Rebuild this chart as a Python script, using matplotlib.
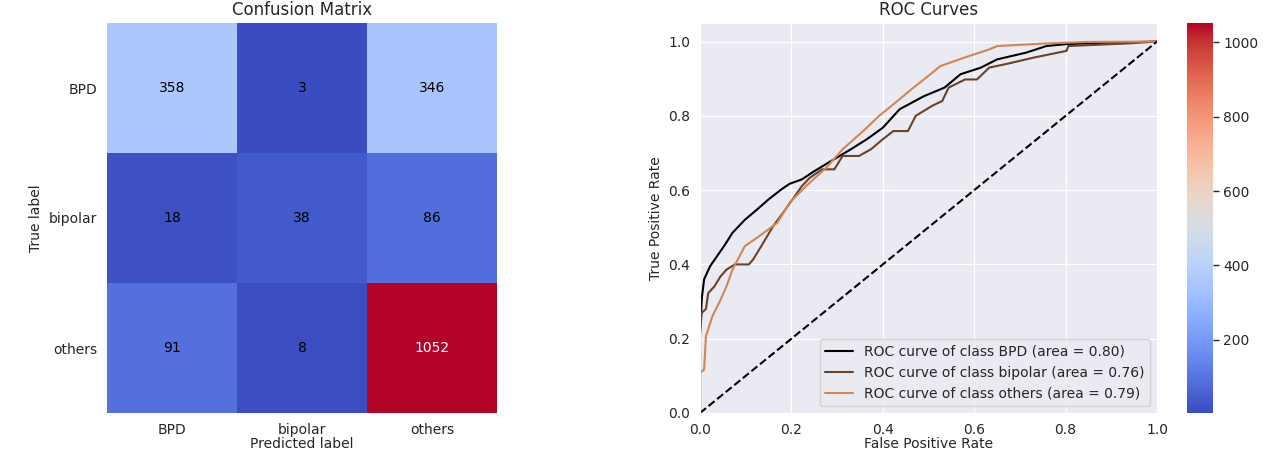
import matplotlib
matplotlib.use('Agg')
import matplotlib.pyplot as plt
import numpy as np
import seaborn as sns

sns.set_style('darkgrid')

classes = ['BPD', 'bipolar', 'others']
cm = [[358, 3, 346],
      [18, 38, 86],
      [91, 8, 1052]]

# ROC points
fpr_bpd = [0, 0, 0.004, 0.009, 0.022, 0.036, 0.053, 0.071, 0.098, 0.125, 0.15, 0.178, 0.196,
           0.223, 0.25, 0.285, 0.33, 0.365, 0.40, 0.437, 0.49, 0.535, 0.57, 0.615, 0.65,
           0.713, 0.758, 0.80, 0.89, 1.0]
tpr_bpd = [0, 0.21, 0.31, 0.36, 0.395, 0.42, 0.45, 0.485, 0.52, 0.548, 0.575, 0.602, 0.617,
           0.629, 0.651, 0.677, 0.71, 0.737, 0.768, 0.818, 0.853, 0.876, 0.912, 0.93, 0.952,
           0.97, 0.988, 0.993, 0.997, 1.0]

fpr_bip = [0, 0, 0.004, 0.013, 0.018, 0.031, 0.045, 0.058, 0.076, 0.107, 0.116, 0.134, 0.16,
           0.187, 0.223, 0.24, 0.267, 0.294, 0.312, 0.348, 0.374, 0.40, 0.423, 0.455, 0.472,
           0.508, 0.53, 0.544, 0.58, 0.606, 0.633, 0.668, 0.731, 0.802, 0.806, 0.936, 1.0]
tpr_bip = [0, 0.22, 0.27, 0.28, 0.323, 0.34, 0.368, 0.386, 0.40, 0.40, 0.413, 0.449, 0.503,
           0.548, 0.611, 0.633, 0.656, 0.656, 0.692, 0.692, 0.71, 0.737, 0.759, 0.759, 0.80,
           0.827, 0.84, 0.876, 0.898, 0.898, 0.93, 0.939, 0.957, 0.975, 0.988, 0.995, 1.0]

fpr_oth = [0, 0, 0.009, 0.013, 0.027, 0.045, 0.058, 0.071, 0.098, 0.134, 0.169, 0.196, 0.232,
           0.276, 0.312, 0.357, 0.392, 0.437, 0.463, 0.49, 0.526, 0.579, 0.633, 0.651, 0.758,
           0.847, 1.0]
tpr_oth = [0, 0.108, 0.117, 0.207, 0.26, 0.305, 0.341, 0.386, 0.449, 0.48, 0.512, 0.566, 0.611,
           0.66, 0.71, 0.759, 0.80, 0.845, 0.872, 0.898, 0.934, 0.957, 0.979, 0.988, 0.995,
           0.999, 1.0]

areas = [0.80, 0.76, 0.79]

fig = plt.figure(figsize=(12.75, 4.68), dpi=100)
W, H = 1275.0, 468.0
ax1 = fig.add_axes([107 / W, 55 / H, 390 / W, 390 / H])
ax2 = fig.add_axes([700 / W, 55 / H, 457 / W, 390 / H])
cax = fig.add_axes([1187 / W, 55 / H, 26 / W, 390 / H])

# confusion matrix
arr = np.array(cm)
im = ax1.imshow(arr, interpolation='nearest', cmap='coolwarm', aspect='auto')
ax1.grid(False)
ax1.set_title('Confusion Matrix', fontsize=12)
ax1.set_xticks(range(len(classes)))
ax1.set_xticklabels(classes, fontsize=10)
ax1.set_yticks(range(len(classes)))
ax1.set_yticklabels(classes, fontsize=10)
ax1.set_xlabel('Predicted label', fontsize=10, labelpad=0)
ax1.set_ylabel('True label', fontsize=10)
thresh = arr.max() / 2.0
for i in range(arr.shape[0]):
    for j in range(arr.shape[1]):
        ax1.text(j, i, str(arr[i, j]), ha='center', va='center', fontsize=10,
                 color='white' if arr[i, j] > thresh else 'black')
for s in ax1.spines.values():
    s.set_visible(False)

cb = fig.colorbar(im, cax=cax)
cb.outline.set_visible(False)
cb.set_ticks([200, 400, 600, 800, 1000])
cax.tick_params(axis='y', right=True, length=4, width=1, color='#262626', labelsize=10)

# ROC curves
cmap = plt.get_cmap('copper')
curves = [(fpr_bpd, tpr_bpd), (fpr_bip, tpr_bip), (fpr_oth, tpr_oth)]
for k, (fx, ty) in enumerate(curves):
    ax2.plot(fx, ty, lw=1.5, color=cmap(k / 3.0),
             label='ROC curve of class {0} (area = {1:0.2f})'.format(classes[k], areas[k]))
ax2.plot([0, 1], [0, 1], 'k--', lw=1.5)
ax2.set_xlim([0.0, 1.0])
ax2.set_ylim([0.0, 1.05])
ax2.set_title('ROC Curves', fontsize=12)
ax2.set_xlabel('False Positive Rate', fontsize=10, labelpad=0)
ax2.set_ylabel('True Positive Rate', fontsize=10)
ax2.tick_params(labelsize=10)
ax2.legend(loc='lower right', fontsize=10)

fig.savefig('out.png', dpi=100)
